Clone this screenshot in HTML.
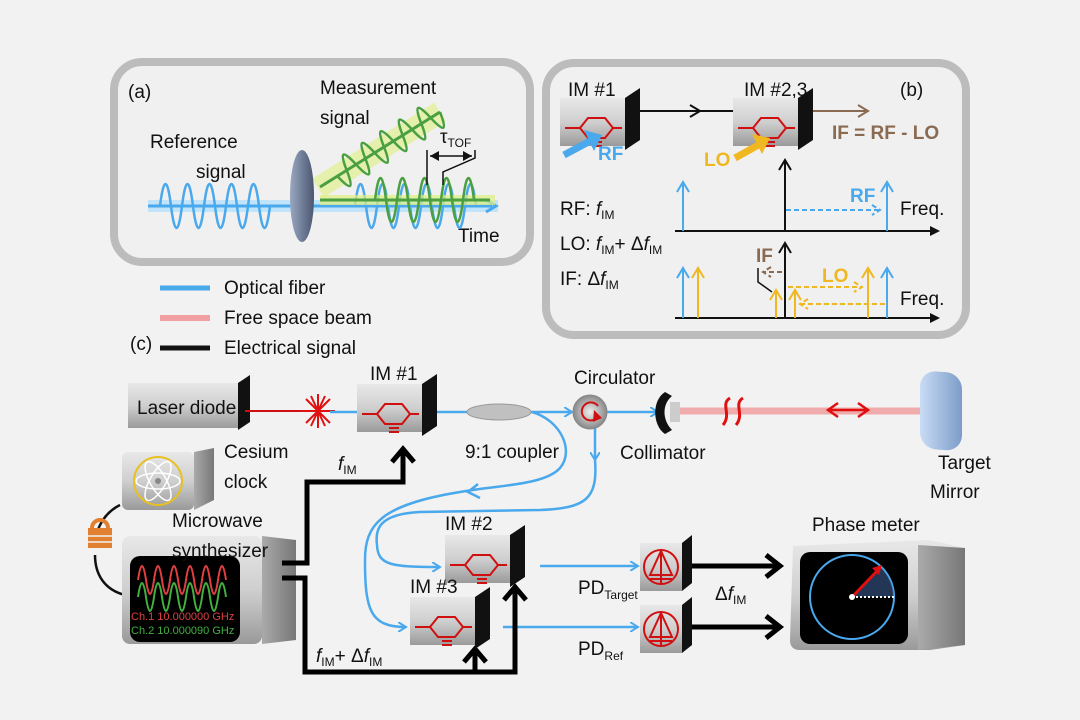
<!DOCTYPE html>
<html><head><meta charset="utf-8"><style>
html,body{margin:0;padding:0;background:#f2f2f2}
svg{display:block}
text{font-family:"Liberation Sans",sans-serif;font-size:19px;fill:#111}
.it{font-style:italic}
</style></head><body>
<svg width="1080" height="720" viewBox="0 0 1080 720" xmlns="http://www.w3.org/2000/svg">
<defs>
<linearGradient id="box" x1="0" y1="0" x2="0" y2="1"><stop offset="0" stop-color="#e8e8e8"/><stop offset="0.5" stop-color="#cfcfcf"/><stop offset="1" stop-color="#9a9a9a"/></linearGradient>
<linearGradient id="side" x1="0" y1="0" x2="1" y2="0"><stop offset="0" stop-color="#aaa"/><stop offset="1" stop-color="#777"/></linearGradient>
<radialGradient id="circ"><stop offset="0" stop-color="#eee"/><stop offset="1" stop-color="#888"/></radialGradient>
<linearGradient id="mir" x1="0" y1="0" x2="1" y2="0"><stop offset="0" stop-color="#c9dcf5"/><stop offset="1" stop-color="#7c9cc8"/></linearGradient>
<linearGradient id="lens" x1="0" y1="0" x2="1" y2="0"><stop offset="0" stop-color="#9aa8c0"/><stop offset="1" stop-color="#4a5570"/></linearGradient>
<g id="im">
<rect x="0" y="0" width="65" height="48" fill="url(#box)"/>
<polygon points="65,0 80,-10 80,42 65,52" fill="#111"/>
<path d="M5,30 H20 L28,20 H45 L53,30 H62 M20,30 L28,40 H45 L53,30" fill="none" stroke="#d01010" stroke-width="2"/>
<path d="M32,44 H42 M32,48 H42" stroke="#d01010" stroke-width="2"/>
</g>
<g id="pd">
<rect x="0" y="0" width="42" height="48" fill="url(#box)"/>
<polygon points="42,0 52,-8 52,40 42,48" fill="#111"/>
<circle cx="21" cy="24" r="17" fill="none" stroke="#d01010" stroke-width="2"/>
<path d="M21,8 L10,32 H32 Z M21,8 V40 M10,36 H32" fill="none" stroke="#d01010" stroke-width="2"/>
</g>
<marker id="ab" markerWidth="10" markerHeight="10" refX="8" refY="5" orient="auto" markerUnits="userSpaceOnUse"><path d="M0,0 L8,5 L0,10" fill="none" stroke="#4aa8ec" stroke-width="2"/></marker>
</defs>

<!-- Panel (a) -->
<rect x="114" y="62" width="416" height="200" rx="28" fill="#f0f0f0" stroke="#bcbcbc" stroke-width="8"/>
<text x="128" y="98">(a)</text>
<text x="320" y="94">Measurement</text>
<text x="320" y="124">signal</text>
<text x="150" y="148">Reference</text>
<text x="196" y="178">signal</text>
<text x="458" y="242">Time</text>
<line x1="148" y1="206" x2="498" y2="206" stroke="#aee0ff" stroke-width="12" opacity="0.7"/>
<line x1="148" y1="206" x2="492" y2="206" stroke="#4aa8ec" stroke-width="3"/>
<path d="M486,200 L496,206 L486,212" fill="none" stroke="#4aa8ec" stroke-width="3"/>
<path d="M160,206 q5.5,-44 11,0 t11,0 t11,0 t11,0 t11,0 t11,0 t11,0 t11,0 t11,0 t11,0" fill="none" stroke="#4aa8ec" stroke-width="2.5"/>
<path d="M355,206 q5.5,-44 11,0 t11,0 t11,0 t11,0 t11,0 t11,0 t11,0 t11,0 t11,0 t11,0 t11,0" fill="none" stroke="#4aa8ec" stroke-width="2.5"/>
<line x1="320" y1="200" x2="495" y2="200" stroke="#dff080" stroke-width="10" opacity="0.7"/>
<line x1="320" y1="200" x2="490" y2="200" stroke="#4aa040" stroke-width="3"/>
<path d="M375,200 q5.5,-44 11,0 t11,0 t11,0 t11,0 t11,0 t11,0 t11,0 t11,0 t11,0" fill="none" stroke="#4aa040" stroke-width="2.5"/>
<line x1="440" y1="112" x2="318" y2="188" stroke="#dff080" stroke-width="22" opacity="0.6"/>
<line x1="440" y1="112" x2="320" y2="187" stroke="#4aa040" stroke-width="3"/>
<g transform="translate(440,112) rotate(148)"><path d="M0,0 q5.5,-30 11,0 t11,0 t11,0 t11,0 t11,0 t11,0 t11,0 t11,0 t11,0 t11,0 t11,0" fill="none" stroke="#4aa040" stroke-width="2.5"/></g>
<ellipse cx="302" cy="196" rx="12" ry="46" fill="url(#lens)"/>
<path d="M427,185 V150 M475,150 V158 L443,172 V185 M430,156 H472" fill="none" stroke="#111" stroke-width="1.5"/>
<path d="M430,156 l9,-5 v10z M472,156 l-9,-5 v10z" fill="#111"/>
<text x="440" y="143">τ<tspan font-size="12" dy="4">TOF</tspan></text>

<!-- Legend -->
<line x1="160" y1="288" x2="210" y2="288" stroke="#4aa8ec" stroke-width="5"/>
<text x="224" y="294">Optical fiber</text>
<line x1="160" y1="318" x2="210" y2="318" stroke="#f0a0a0" stroke-width="6"/>
<text x="224" y="324">Free space beam</text>
<line x1="160" y1="348" x2="210" y2="348" stroke="#111" stroke-width="5"/>
<text x="224" y="354">Electrical signal</text>
<text x="130" y="350">(c)</text>

<!-- Panel (b) -->
<rect x="546" y="63" width="420" height="272" rx="28" fill="#f0f0f0" stroke="#bcbcbc" stroke-width="8"/>
<text x="568" y="96">IM #1</text>
<text x="744" y="96">IM #2,3</text>
<text x="900" y="96">(b)</text>
<use href="#im" x="560" y="98"/>
<use href="#im" x="733" y="98"/>
<line x1="640" y1="111" x2="733" y2="111" stroke="#111" stroke-width="2"/>
<path d="M690,105 L700,111 L690,117" fill="none" stroke="#111" stroke-width="2"/>
<line x1="813" y1="111" x2="868" y2="111" stroke="#8a6a50" stroke-width="2"/>
<path d="M858,105 L868,111 L858,117" fill="none" stroke="#8a6a50" stroke-width="2"/>
<text x="832" y="139" style="fill:#8a6a50;font-weight:bold">IF = RF - LO</text>
<line x1="564" y1="155" x2="596" y2="138" stroke="#4aa8ec" stroke-width="7"/>
<path d="M584,130 L602,135 L594,151" fill="#4aa8ec"/>
<text x="598" y="160" style="fill:#4aa8ec;font-weight:bold">RF</text>
<line x1="735" y1="158" x2="764" y2="142" stroke="#f0b820" stroke-width="7"/>
<path d="M752,134 L770,138 L762,154" fill="#f0b820"/>
<text x="704" y="166" style="fill:#f0b820;font-weight:bold">LO</text>
<text x="560" y="215">RF: <tspan class="it">f</tspan><tspan font-size="12" dy="4">IM</tspan></text>
<text x="560" y="250">LO: <tspan class="it">f</tspan><tspan font-size="12" dy="4">IM</tspan><tspan dy="-4">+ Δ</tspan><tspan class="it">f</tspan><tspan font-size="12" dy="4">IM</tspan></text>
<text x="560" y="285">IF: Δ<tspan class="it">f</tspan><tspan font-size="12" dy="4">IM</tspan></text>
<text x="900" y="215">Freq.</text>
<text x="900" y="305">Freq.</text>
<line x1="675" y1="231" x2="935" y2="231" stroke="#111" stroke-width="2"/>
<path d="M930,226 L940,231 L930,236z" fill="#111"/>
<line x1="675" y1="318" x2="935" y2="318" stroke="#111" stroke-width="2"/>
<path d="M930,313 L940,318 L930,323z" fill="#111"/>
<path d="M785,231 V160 M779,170 L785,160 L791,170 M785,318 V243 M779,253 L785,243 L791,253" fill="none" stroke="#111" stroke-width="2"/>
<g fill="none" stroke="#4aa8ec" stroke-width="2">
<path d="M683,231 V182 M677,192 L683,182 L689,192"/>
<path d="M887,231 V182 M881,192 L887,182 L893,192"/>
<path d="M683,318 V268 M677,278 L683,268 L689,278"/>
<path d="M887,318 V268 M881,278 L887,268 L893,278"/>
<path d="M786,210 H880 M872,205 L880,210 L872,215" stroke-dasharray="5,3"/>
</g>
<text x="850" y="202" style="fill:#4aa8ec;font-weight:bold">RF</text>
<g fill="none" stroke="#f0b820" stroke-width="2">
<path d="M698,318 V268 M692,278 L698,268 L704,278"/>
<path d="M868,318 V268 M862,278 L868,268 L874,278"/>
<path d="M776,318 V290 M770,300 L776,290 L782,300"/>
<path d="M795,318 V290 M789,300 L795,290 L801,300"/>
<path d="M788,287 H862 M854,282 L862,287 L854,292" stroke-dasharray="5,3"/>
<path d="M885,304 H800 M808,299 L800,304 L808,309" stroke-dasharray="5,3"/>
</g>
<text x="822" y="282" style="fill:#f0b820;font-weight:bold">LO</text>
<path d="M782,272 H763 M771,267 L763,272 L771,277" fill="none" stroke="#8a6a50" stroke-width="2" stroke-dasharray="5,3"/>
<text x="756" y="262" style="fill:#8a6a50;font-weight:bold">IF</text>
<path d="M758,268 V282 L772,292" fill="none" stroke="#111" stroke-width="1.5"/>

<!-- Panel (c) -->
<rect x="128" y="383" width="110" height="45" fill="url(#box)"/>
<polygon points="238,383 250,375 250,422 238,430" fill="#111"/>
<text x="137" y="414">Laser diode</text>
<line x1="245" y1="411" x2="318" y2="411" stroke="#d01010" stroke-width="2"/>
<g stroke="#e01010" stroke-width="2"><path d="M318,394 V428 M301,411 H335 M306,399 L330,423 M330,399 L306,423 M311,396 L325,426 M325,396 L311,426"/></g>
<line x1="330" y1="412" x2="357" y2="412" stroke="#4aa8ec" stroke-width="2.5"/>
<text x="370" y="380">IM #1</text>
<use href="#im" x="357" y="384"/>
<g fill="none" stroke="#4aa8ec" stroke-width="2.5">
<path d="M437,412 H572" marker-end="url(#ab)"/>
<path d="M607,412 H658" marker-end="url(#ab)"/>
<path d="M595,428 V460" marker-end="url(#ab)"/>
<path d="M595,460 C598,500 585,508 540,510 L420,512 C378,514 375,530 377,545 C378,565 390,567 440,567" marker-end="url(#ab)"/>
<path d="M532,412 C560,420 575,450 560,468 C545,485 500,485 460,492 C380,505 365,525 365,560 C365,610 370,627 406,627" marker-end="url(#ab)"/>
<path d="M540,566 H638" marker-end="url(#ab)"/>
<path d="M503,627 H638" marker-end="url(#ab)"/>
</g>
<path d="M478,484 L468,492 L480,498" fill="none" stroke="#4aa8ec" stroke-width="2.5"/>
<ellipse cx="499" cy="412" rx="32" ry="8" fill="#c0c0c0" stroke="#999"/>
<text x="465" y="458">9:1 coupler</text>
<circle cx="590" cy="412" r="17" fill="url(#circ)" stroke="#888"/>
<path d="M598,406 A9,9 0 1 0 597,418" fill="none" stroke="#d01010" stroke-width="2"/>
<path d="M594,410 L602,418 L593,422z" fill="#d01010"/>
<text x="574" y="384">Circulator</text>
<path d="M665,392 C652,400 652,425 665,434 L672,430 C662,420 662,404 672,396z" fill="#111"/>
<rect x="670" y="402" width="10" height="20" fill="#ccc"/>
<line x1="680" y1="411" x2="935" y2="411" stroke="#f0a0a0" stroke-width="7" opacity="0.85"/>
<path d="M730,398 C720,404 732,414 723,425 M743,398 C733,404 745,414 736,425" fill="none" stroke="#e01010" stroke-width="3"/>
<path d="M830,410 H866 M838,403 L828,410 L838,417 M858,403 L868,410 L858,417" fill="none" stroke="#e01010" stroke-width="2.5"/>
<text x="620" y="459">Collimator</text>
<rect x="920" y="370" width="42" height="78" rx="16" fill="url(#mir)" transform="skewY(4) translate(0,-64)"/>
<text x="938" y="469">Target</text>
<text x="930" y="498">Mirror</text>
<rect x="122" y="452" width="72" height="58" rx="6" fill="url(#box)"/>
<path d="M194,452 L214,448 L214,500 L194,510z" fill="url(#side)"/>
<circle cx="158" cy="481" r="24" fill="none" stroke="#e8c020" stroke-width="2"/>
<g fill="none" stroke="#fff" stroke-width="1.5"><ellipse cx="158" cy="481" rx="22" ry="8"/><ellipse cx="158" cy="481" rx="22" ry="8" transform="rotate(60 158 481)"/><ellipse cx="158" cy="481" rx="22" ry="8" transform="rotate(-60 158 481)"/></g>
<circle cx="158" cy="481" r="3" fill="#888"/>
<text x="224" y="458">Cesium</text>
<text x="224" y="488">clock</text>
<path d="M120,505 C100,515 95,535 95,545 M95,555 C95,575 105,590 125,595" fill="none" stroke="#111" stroke-width="2.5"/>
<path d="M92,528 A8,8 0 0 1 108,528" fill="none" stroke="#e08030" stroke-width="4"/>
<rect x="88" y="528" width="24" height="20" fill="#e08030"/>
<path d="M88,536 H112 M88,542 H112" stroke="#f2f2f2" stroke-width="1.5"/>
<rect x="122" y="536" width="140" height="108" rx="8" fill="url(#box)"/>
<path d="M262,536 L296,540 L296,640 L262,644z" fill="url(#side)"/>
<rect x="130" y="556" width="110" height="86" rx="10" fill="#000"/>
<path d="M138,580 q4,-28 8,0 t8,0 t8,0 t8,0 t8,0 t8,0 t8,0 t8,0 t8,0 t8,0 t8,0" fill="none" stroke="#e04040" stroke-width="2"/>
<path d="M138,597 q4,-28 8,0 t8,0 t8,0 t8,0 t8,0 t8,0 t8,0 t8,0 t8,0 t8,0 t8,0" fill="none" stroke="#40b040" stroke-width="2"/>
<text x="131" y="620" style="font-size:11px;fill:#e04040">Ch.1 10.000000 GHz</text>
<text x="131" y="634" style="font-size:11px;fill:#40b040">Ch.2 10.000090 GHz</text>
<text x="172" y="527">Microwave</text>
<text x="172" y="557">synthesizer</text>
<g fill="none" stroke="#000" stroke-width="5">
<path d="M282,563 H307 V482 H403 V452"/>
<path d="M392,462 L403,449 L414,462"/>
<path d="M282,578 H305 V672 H515 V590"/>
<path d="M504,600 L515,587 L526,600"/>
<path d="M475,672 V652"/>
<path d="M464,662 L475,649 L486,662"/>
<path d="M692,566 H778 M766,555 L780,566 L766,577"/>
<path d="M692,627 H778 M766,616 L780,627 L766,638"/>
</g>
<text x="338" y="470" class="it">f<tspan font-size="12" dy="4" font-style="normal">IM</tspan></text>
<text x="316" y="662"><tspan class="it">f</tspan><tspan font-size="12" dy="4">IM</tspan><tspan dy="-4">+ Δ</tspan><tspan class="it">f</tspan><tspan font-size="12" dy="4">IM</tspan></text>
<text x="445" y="530">IM #2</text>
<use href="#im" x="445" y="535"/>
<text x="410" y="593">IM #3</text>
<use href="#im" x="410" y="597"/>
<use href="#pd" x="640" y="543"/>
<use href="#pd" x="640" y="605"/>
<text x="578" y="594">PD<tspan font-size="12" dy="5">Target</tspan></text>
<text x="578" y="655">PD<tspan font-size="12" dy="5">Ref</tspan></text>
<text x="715" y="600">Δ<tspan class="it">f</tspan><tspan font-size="12" dy="4">IM</tspan></text>
<text x="812" y="531">Phase meter</text>
<path d="M793,546 L930,540 L965,548 L965,645 L930,650 L800,650 Q790,650 790,640z" fill="url(#box)"/>
<path d="M918,545 L965,548 L965,645 L918,650z" fill="url(#side)"/>
<rect x="800" y="552" width="108" height="92" rx="10" fill="#000"/>
<circle cx="852" cy="597" r="42" fill="none" stroke="#4aa8ec" stroke-width="2"/>
<path d="M852,597 L880,567 A42,42 0 0 1 894,597z" fill="#3a5a90" opacity="0.6"/>
<line x1="852" y1="597" x2="878" y2="570" stroke="#e01010" stroke-width="3"/>
<path d="M872,568 L882,565 L879,575z" fill="#e01010"/>
<line x1="852" y1="597" x2="894" y2="597" stroke="#fff" stroke-width="2" stroke-dasharray="2,2"/>
<circle cx="852" cy="597" r="3" fill="#fff"/>
</svg>
</body></html>
